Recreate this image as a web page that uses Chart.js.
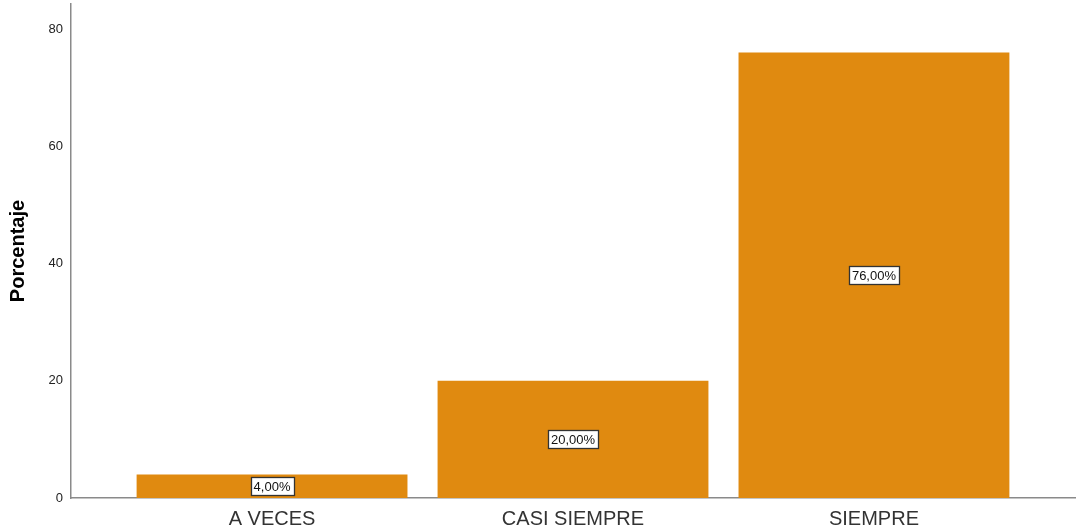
<!DOCTYPE html>
<html>
<head>
<meta charset="utf-8">
<script src="https://cdn.jsdelivr.net/npm/chart.js@4/dist/chart.umd.min.js"></script>
<style>
  html, body { margin: 0; padding: 0; background: #fff; }
  #wrap { width: 1076px; height: 531px; position: relative; }
</style>
</head>
<body>
<div id="wrap"><canvas id="chart"></canvas></div>
<script>
var categories = ['A VECES', 'CASI SIEMPRE', 'SIEMPRE'];
var percentages = [4, 20, 76];
var yTicks = [0, 20, 40, 60, 80];

var FONT = '"Liberation Sans", Arial, sans-serif';
var BAR = 'rgb(224,138,16)';
var AXIS = '#8a8a8a';

// white boxed value labels centred in each bar
var boxLabels = {
  id: 'boxLabels',
  afterDatasetsDraw: function (chart) {
    var ctx = chart.ctx;
    var meta = chart.getDatasetMeta(0);
    ctx.save();
    ctx.font = '13px ' + FONT;
    ctx.textAlign = 'center';
    ctx.textBaseline = 'middle';
    meta.data.forEach(function (bar, i) {
      var txt = percentages[i].toFixed(2).replace('.', ',') + '%';
      var cx = bar.x;
      var cy = (bar.y + bar.base) / 2;
      var w = Math.round(ctx.measureText(txt).width + 6);
      var h = 18;
      var x0 = Math.round(cx - w / 2) + 0.5;
      var y0 = Math.round(cy - h / 2) + 0.5;
      ctx.fillStyle = '#fff';
      ctx.fillRect(x0, y0, w, h);
      ctx.strokeStyle = '#333';
      ctx.lineWidth = 1.3;
      ctx.strokeRect(x0, y0, w, h);
      ctx.fillStyle = '#111';
      ctx.fillText(txt, cx, cy + 1);
    });
    ctx.restore();
  }
};

new Chart(document.getElementById('chart').getContext('2d'), {
  type: 'bar',
  data: {
    datasets: [{
      data: percentages.map(function (v, i) { return { x: i, y: v }; }),
      backgroundColor: BAR,
      borderWidth: 0,
      barPercentage: 0.9,
      categoryPercentage: 1
    }]
  },
  options: {
    responsive: true,
    maintainAspectRatio: false,
    animation: false,
    layout: { padding: { top: 4, right: 1, left: 0, bottom: 0 } },
    plugins: {
      legend: { display: false },
      tooltip: { enabled: false }
    },
    scales: {
      x: {
        type: 'linear',
        offset: false,
        min: -0.668,
        max: 2.668,
        afterBuildTicks: function (scale) {
          scale.ticks = categories.map(function (c, i) { return { value: i }; });
        },
        afterFit: function (scale) { scale.height = 33; },
        grid: { display: false, drawTicks: false },
        border: { display: true, color: AXIS, width: 1.5 },
        ticks: {
          padding: 9,
          color: '#333',
          font: { family: FONT, size: 20 },
          maxRotation: 0,
          autoSkip: false,
          callback: function (v) { return categories[v]; }
        }
      },
      y: {
        min: 0,
        max: 84.27,
        afterBuildTicks: function (scale) {
          scale.ticks = yTicks.map(function (v) { return { value: v }; });
        },
        afterFit: function (scale) {
          scale.width = 71;
          scale.paddingTop = 0;
          scale.paddingBottom = 0;
        },
        grid: { display: false, drawTicks: false },
        border: { display: true, color: AXIS, width: 1.5 },
        ticks: {
          padding: 8,
          color: '#222',
          font: { family: FONT, size: 13 }
        },
        title: {
          display: true,
          text: 'Porcentaje',
          color: '#000',
          font: { family: FONT, size: 20, weight: 'bold' },
          padding: { top: 6, bottom: 0 }
        }
      }
    }
  },
  plugins: [boxLabels]
});
</script>
</body>
</html>
